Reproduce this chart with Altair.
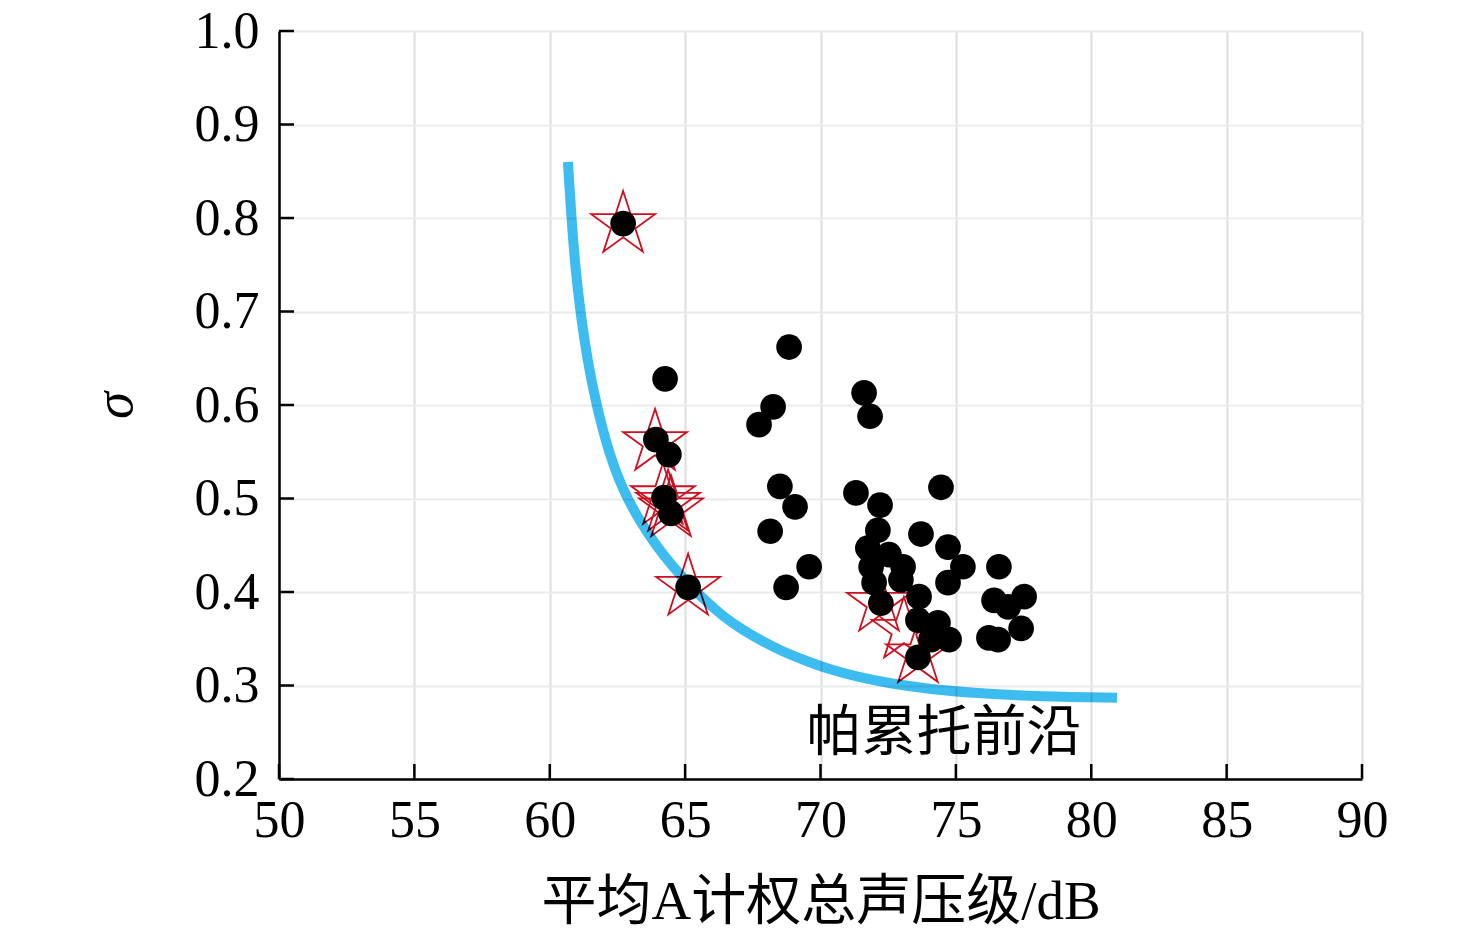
import altair as alt
import pandas as pd

# ---- data ----
dot_x = [62.71, 64.26, 63.92, 64.40, 64.22, 64.48, 65.11, 68.84, 68.25, 67.73,
         68.50, 69.06, 68.14, 69.58, 68.73, 71.61, 71.83, 71.31, 72.20, 74.45,
         73.71, 72.12, 71.75, 72.53, 73.05, 71.98, 72.23, 72.97, 73.64, 73.60,
         74.34, 74.75, 73.60, 74.08, 74.71, 75.26, 74.71, 76.59, 76.41, 77.52,
         76.93, 77.41, 76.22, 76.56, 71.87]
dot_y = [0.794, 0.628, 0.563, 0.547, 0.501, 0.484, 0.405, 0.662, 0.598, 0.579,
         0.513, 0.491, 0.465, 0.427, 0.405, 0.613, 0.588, 0.506, 0.493, 0.512,
         0.462, 0.466, 0.447, 0.440, 0.427, 0.410, 0.388, 0.413, 0.395, 0.370,
         0.367, 0.349, 0.330, 0.349, 0.448, 0.427, 0.410, 0.427, 0.391, 0.395,
         0.384, 0.361, 0.351, 0.349, 0.427]

star_x = [62.71, 63.89, 64.18, 64.37, 64.48, 65.11, 72.16, 73.08, 73.60]
star_y = [0.793, 0.560, 0.502, 0.495, 0.489, 0.405, 0.388, 0.359, 0.333]

front_x = [60.67, 60.80, 60.95, 61.15, 61.38, 61.72, 62.15, 62.68, 63.30, 63.92,
           64.52, 65.14, 65.77, 66.44, 67.10, 67.80, 68.55, 69.40, 70.35, 71.39,
           72.60, 74.08, 75.67, 78.14, 80.95]
front_y = [0.860, 0.800, 0.745, 0.695, 0.650, 0.600, 0.552, 0.510, 0.477, 0.450,
           0.428, 0.408, 0.390, 0.373, 0.360, 0.348, 0.337, 0.327, 0.317, 0.309,
           0.302, 0.296, 0.292, 0.288, 0.287]

x_ticks = [50, 55, 60, 65, 70, 75, 80, 85, 90]
y_ticks = [0.2, 0.3, 0.4, 0.5, 0.6, 0.7, 0.8, 0.9, 1.0]

label_text = ["帕累托前沿"]
label_x = [74.56]
label_y = [0.249]

x_title = "平均A计权总声压级/dB"
y_title = "σ"

W, H = 1083, 748
SERIF = "Liberation Serif, Noto Sans CJK SC"

dots = pd.DataFrame({"x": dot_x, "y": dot_y})
stars = pd.DataFrame({"x": star_x, "y": star_y})
front = pd.DataFrame({"x": front_x, "y": front_y, "o": list(range(len(front_x)))})
xt = pd.DataFrame({"v": x_ticks})
yt = pd.DataFrame({"v": y_ticks})
lab = pd.DataFrame({"t": label_text, "x": label_x, "y": label_y})

xscale = alt.Scale(domain=[50, 90], nice=False, zero=False)
yscale = alt.Scale(domain=[0.2, 1.0], nice=False, zero=False)

xaxis = alt.Axis(values=x_ticks, title=x_title, ticks=False, grid=True,
                 gridColor="#dedede", gridWidth=2, domainColor="black", domainWidth=2.5,
                 labelFont="Liberation Serif", labelFontSize=52, labelColor="black",
                 labelPadding=16, labelFlush=False, labelOverlap=False,
                 titleFont=SERIF, titleFontSize=55, titleFontWeight="normal",
                 titleColor="black", titleY=122, titleBaseline="middle")
yaxis = alt.Axis(values=y_ticks, format=".1f", title=y_title, ticks=False, grid=True,
                 gridColor="#ebebeb", gridWidth=2, domainColor="black", domainWidth=2.5,
                 labelFont="Liberation Serif", labelFontSize=52, labelColor="black",
                 labelPadding=20, labelFlush=False, labelOverlap=False,
                 titleFont="Liberation Serif", titleFontSize=55, titleFontWeight="normal",
                 titleFontStyle="italic", titleColor="black", titleAngle=270,
                 titleX=-148, titleY=374, titleAlign="center", titleBaseline="alphabetic")

STAR = ("M0,-1 L0.2245,-0.309 L0.951,-0.309 L0.3633,0.118 L0.588,0.809 "
        "L0,0.382 L-0.588,0.809 L-0.3633,0.118 L-0.951,-0.309 L-0.2245,-0.309 Z")

base_axes = alt.Chart(dots).mark_point(opacity=0).encode(
    x=alt.X("x:Q", scale=xscale, axis=xaxis),
    y=alt.Y("y:Q", scale=yscale, axis=yaxis),
)

star_layer = alt.Chart(stars).mark_point(
    shape=STAR, size=4500, filled=False, stroke="#cc1020", strokeWidth=1.8, opacity=1
).encode(x=alt.X("x:Q", scale=xscale), y=alt.Y("y:Q", scale=yscale))

dot_layer = alt.Chart(dots).mark_circle(size=660, color="black", opacity=1).encode(
    x=alt.X("x:Q", scale=xscale), y=alt.Y("y:Q", scale=yscale))

line_layer = alt.Chart(front).mark_line(
    color="#3dbcef", strokeWidth=10, interpolate="basis", blend="multiply"
).encode(x=alt.X("x:Q", scale=xscale), y=alt.Y("y:Q", scale=yscale),
         order="o:Q")

xtick_layer = alt.Chart(xt).mark_rule(color="black", strokeWidth=2.5).encode(
    x=alt.X("v:Q", scale=xscale), y=alt.value(H), y2=alt.value(H - 15))
ytick_layer = alt.Chart(yt).mark_rule(color="black", strokeWidth=2.5).encode(
    y=alt.Y("v:Q", scale=yscale), x=alt.value(0), x2=alt.value(15))

text_layer = alt.Chart(lab).mark_text(
    font="Noto Sans CJK SC", fontSize=55, color="black", align="center", baseline="middle"
).encode(x=alt.X("x:Q", scale=xscale), y=alt.Y("y:Q", scale=yscale), text="t:N")

chart = alt.layer(
    base_axes, star_layer, dot_layer, line_layer, xtick_layer, ytick_layer, text_layer
).properties(
    width=W, height=H,
    padding={"left": 271, "top": 23, "right": 100, "bottom": 158},
    autosize=alt.AutoSizeParams(type="none"),
).configure_view(stroke="black", strokeWidth=2.5).configure(background="white")

chart.save("out.html", embed_options={"renderer": "svg", "actions": False})
